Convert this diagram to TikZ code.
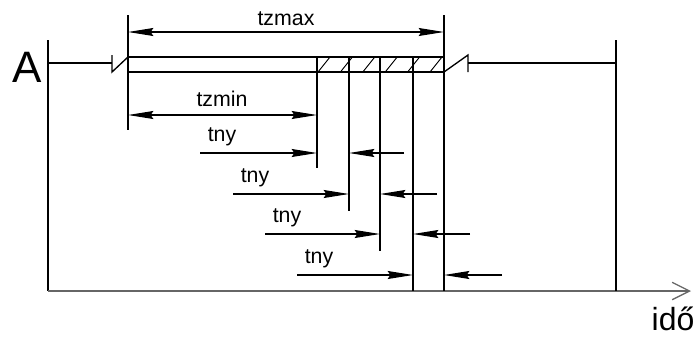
\documentclass[tikz,border=0pt]{standalone}
\usepackage{fontspec}
\setmainfont{Liberation Sans}
\usetikzlibrary{arrows.meta}

\begin{document}
\begin{tikzpicture}[x=0.75pt,y=-0.75pt,line width=1pt]
\tikzset{dim/.style={-{Stealth[length=19pt,width=6pt,inset=2pt]}},
  ddim/.style={{Stealth[length=19pt,width=6pt,inset=2pt]}-{Stealth[length=19pt,width=6pt,inset=2pt]}},
  lbl/.style={font=\fontsize{16}{16}\selectfont,anchor=base,inner sep=0pt}}
\useasboundingbox (0,0) rectangle (698,336);
% axes
\coordinate (o) at (48,291);
\coordinate (ytop) at (48,40);
\coordinate (xend) at (691,291);
\draw (ytop) -- (o);
\draw[black!60,-{Straight Barb[length=13pt,width=13pt]}] (o) -- (xend);
\node[font=\fontsize{24}{24}\selectfont,anchor=base,inner sep=0pt] (ido) at (673,330) {idő};
\node[font=\fontsize{33}{33}\selectfont,anchor=base,inner sep=0pt] (A) at (27,82) {A};
\coordinate (rtop) at (616,40);
\coordinate (rbot) at (616,291);
\draw (rtop) -- (rbot);
% signal with breaks
\coordinate (sig0) at (48,63);
\coordinate (sig1) at (112,63);
\coordinate (sig2) at (468,63);
\coordinate (sig3) at (616,63);
\draw (sig0) -- (sig1);
\draw (112,55) -- (112,72) -- (128,57);
\draw (128,57) rectangle (444,72);
\draw (444,72) -- (468,55) -- (468,72);
\draw (sig2) -- (sig3);
\foreach \k in {0,...,5}
  \draw[line width=0.7pt] ({318+22.4*\k},72) -- ({330+22.4*\k},57);
% vertical marks
\coordinate (t0) at (128,15); \coordinate (b0) at (128,130);
\coordinate (t5) at (444,15); \coordinate (b5) at (444,291);
\foreach \i/\x/\yb in {1/317/168,2/349/211,3/380/251,4/413/291} {
  \coordinate (t\i) at (\x,57);
  \coordinate (b\i) at (\x,\yb);
}
\foreach \i in {0,...,5}
  \draw (t\i) -- (b\i);
% dimensions
\coordinate (zmax0) at (128,32); \coordinate (zmax1) at (444,32);
\draw[ddim] (zmax0) -- (zmax1);
\node[lbl] (tzmax) at (286,25) {tzmax};
\coordinate (zmin0) at (128,115); \coordinate (zmin1) at (317,115);
\draw[ddim] (zmin0) -- (zmin1);
\node[lbl] (tzmin) at (222,106) {tzmin};
\foreach \i/\y/\xa/\xb/\xc/\xd in {1/153/200/317/349/404,2/194/233/349/380/437,
    3/234/265/380/413/470,4/275/297/413/444/502} {
  \coordinate (p\i) at (\xa,\y);
  \coordinate (q\i) at (\xb,\y);
  \coordinate (r\i) at (\xc,\y);
  \coordinate (s\i) at (\xd,\y);
  \draw[dim] (p\i) -- (q\i);
  \draw[dim] (s\i) -- (r\i);
  \node[lbl] (tny\i) at ({\xa+22},{\y-12}) {tny};
}
\end{tikzpicture}
\end{document}
